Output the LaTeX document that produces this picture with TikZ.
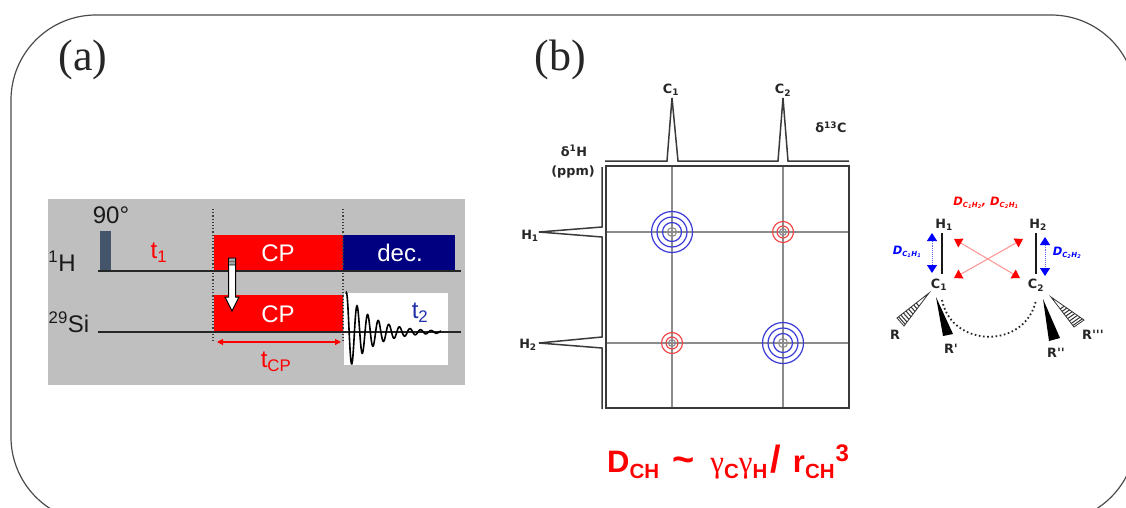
\documentclass[tikz,border=0pt]{standalone}
\usepackage{fontspec}
\setmainfont{Liberation Sans}
\newfontfamily\timesfam{Liberation Serif}
\newfontfamily\dvbold{DejaVu Sans Bold}
\newfontfamily\dvboldit{DejaVu Sans Bold Oblique}
\usetikzlibrary{arrows.meta,calc}
\definecolor{panelgray}{HTML}{BFBFBF}
\definecolor{pulseblue}{HTML}{44546A}
\definecolor{decnavy}{HTML}{000080}
\definecolor{sired}{HTML}{FF0000}
\definecolor{gridgray}{HTML}{8C8C8C}
\definecolor{specblack}{HTML}{3A3A3A}
\definecolor{tblue}{HTML}{1F2FA8}
\definecolor{ringblue}{HTML}{3A3AD8}
\definecolor{ringred}{HTML}{F04040}
\tikzset{
  x=1pt,y=-1pt,
  panel label/.style={font=\timesfam\fontsize{44}{44}\selectfont,inner sep=0pt,text=black!85},
  seq label/.style={font=\fontsize{24}{24}\selectfont,inner sep=0pt,text=black!90},
  block label/.style={font=\fontsize{24}{24}\selectfont,inner sep=0pt,text=white},
  spec label/.style={font=\dvbold\fontsize{12.8}{14}\selectfont,inner sep=0pt,text=black!85,align=center},
  dip label/.style={font=\dvboldit\fontsize{11.5}{11.5}\selectfont,inner sep=0pt},
  seq line/.style={draw=black!85,line width=1.5pt},
  spec line/.style={draw=specblack,line width=1.5pt,line join=miter},
  grid line/.style={draw=gridgray,line width=1.2pt},
  blue ring/.style={draw=ringblue,line width=1.2pt},
  red ring/.style={draw=ringred,line width=1.1pt},
  centre ring/.style={draw=gridgray,line width=1.1pt},
  time mark/.style={draw=black!75,line width=1.2pt,dotted},
  bond/.style={draw=black!90,line width=1.7pt},
  blue dipole/.style={draw=blue!60,line width=.9pt,densely dotted,{Triangle[fill=blue,color=blue,length=8pt,width=10pt]}-{Triangle[fill=blue,color=blue,length=8pt,width=10pt]}},
  red dipole/.style={draw=red!40,line width=1.1pt,{Triangle[fill=red,color=red,length=8pt,width=10pt]}-{Triangle[fill=red,color=red,length=8pt,width=10pt]}},
}
\newcommand{\hatchwedge}[3]{%
  \draw[draw=black!80,fill=white,line width=.8pt] (#1) -- (#2) -- (#3) -- cycle;
  \foreach \t in {.4,.48,.56,.64,.72,.8,.88,.95}{\draw[black!80,line width=1pt] ($(#1)!\t!(#2)$) -- ($(#1)!\t!(#3)$);}
}
\newcommand{\subs}[1]{\raisebox{-.35ex}{\fontsize{7}{7}\selectfont #1}}
\newcommand{\fsub}[1]{\raisebox{-6pt}{\fontsize{20.5}{20}\selectfont #1}}
\begin{document}
\begin{tikzpicture}
\useasboundingbox (0,0) rectangle (1126,508);
\clip (0,0) rectangle (1126,508);
\fill[white] (0,0) rectangle (1126,508);
% outer frame
\draw[draw=black!70,line width=1.2pt,rounded corners=85pt] (11,15) rectangle (1136,522);
\node[panel label] (la) at (83,60) {(a)};
\node[panel label] (lb) at (560,60) {(b)};

% ---------- panel (a)
\fill[panelgray] (48,199) rectangle (465,385);
\fill[white] (344,293) rectangle (448,365);
\fill[pulseblue] (100,231) rectangle (110.5,271);
\fill[sired] (214,235) rectangle (343,271);
\fill[decnavy] (343,235) rectangle (455,271);
\fill[sired] (214,295) rectangle (343,332);
\draw[time mark] (213,209) -- (213,341);
\draw[time mark] (343,209) -- (343,341);
\coordinate (h1s) at (98,271); \coordinate (h1e) at (461,271);
\coordinate (sis) at (98,332); \coordinate (sie) at (461,332);
\draw[seq line] (h1s) -- (h1e);
\draw[seq line] (sis) -- (sie);
\draw[black,line width=1.6pt,smooth,samples=260,domain=346:441,variable=\x]
  plot ({\x},{332-40*exp(-(\x-346)/26)*cos(34*(\x-346.5))});
% transfer arrow
\draw[black,line width=1pt,fill=white,line join=miter] (228.5,258) -- (235.5,258) -- (235.5,297) -- (239,297) -- (232,311) -- (225,297) -- (228.5,297) -- cycle;
\fill[gray!70] (229,259) rectangle (235,266);
\draw[black!60,line width=.5pt] (229,261) -- (235,261) (229,264) -- (235,264);
\draw[sired,line width=1.1pt,{Triangle[length=6pt,width=6pt]}-{Triangle[length=6pt,width=6pt]}] (217,342) -- (341,342);
\node[seq label] (n90) at (111,215) {90°};
\node[seq label] (nh) at (62,261) {\textsuperscript{1}H};
\node[seq label] (nsi) at (69,322) {\textsuperscript{29}Si};
\node[seq label,text=sired] (nt1) at (159,253) {t\textsubscript{1}};
\node[block label] (cp1) at (278,253) {CP};
\node[block label] (cp2) at (278,314) {CP};
\node[block label] (dec) at (400,253) {dec.};
\node[seq label,text=sired] (tcp) at (276,362) {t\textsubscript{CP}};
\node[seq label,text=tblue] (t2) at (420,313) {t\textsubscript{2}};

% ---------- panel (b)
\foreach \cx in {672,783} \draw[grid line] (\cx,166) -- (\cx,408);
\foreach \cy in {232,343} \draw[grid line] (606,\cy) -- (850,\cy);
\draw[spec line,line width=1.7pt] (606,166) rectangle (849,408);
\draw[spec line] (605,161) -- (667,161) -- (672,98) -- (678,161) -- (778,161) -- (783,98) -- (788,161) -- (849,161);
\draw[spec line] (602,167) -- (602,227) -- (539,232) -- (602,237) -- (602,337) -- (539,343) -- (602,348) -- (602,409);
\foreach \cx/\cy in {672/232,783/343}{
  \foreach \r in {20.5,15,9.5} \draw[blue ring] (\cx,\cy) circle (\r);
  \draw[centre ring] (\cx,\cy) circle (4.5);
}
\foreach \cx/\cy in {783/232,672/343}{
  \draw[red ring] (\cx,\cy) circle (10.5);
  \draw[red ring] (\cx,\cy) circle (6);
  \draw[centre ring] (\cx,\cy) circle (3.5);
}
\node[spec label] (pc1) at (671,90) {C\textsubscript{1}};
\node[spec label] (pc2) at (783,90) {C\textsubscript{2}};
\node[spec label] (d13) at (831,127) {δ\textsuperscript{13}C};
\node[spec label] (d1h) at (574,151) {δ\textsuperscript{1}H};
\node[spec label] (ppm) at (573,172) {(ppm)};
\node[spec label] (ph1) at (530,236) {H\textsubscript{1}};
\node[spec label] (ph2) at (528,345) {H\textsubscript{2}};

% formula
\node[inner sep=0pt,anchor=base west,text=sired,font=\bfseries\fontsize{31}{31}\selectfont] (dch) at (607,472)
  {D\fsub{CH}\kern13pt{\fontsize{38}{38}\selectfont\textasciitilde}\kern16pt{\timesfam\mdseries γ}\fsub{C}{\timesfam\mdseries γ}\fsub{H}\kern3pt{\fontsize{38}{38}\selectfont /}\kern12pt r\fsub{CH}\kern1pt\raisebox{11pt}{\fontsize{24}{24}\selectfont 3}};

% ---------- molecule
\node[spec label] (mh1) at (944,225) {H\textsubscript{1}};
\node[spec label] (mh2) at (1038,225) {H\textsubscript{2}};
\node[spec label] (mc1) at (939,285) {C\textsubscript{1}};
\node[spec label] (mc2) at (1036,285) {C\textsubscript{2}};
\coordinate (b1t) at (942,233); \coordinate (b1b) at (942,274);
\coordinate (b2t) at (1036,233); \coordinate (b2b) at (1036,274);
\draw[bond] (b1t) -- (b1b);
\draw[bond] (b2t) -- (b2b);
\coordinate (ba1) at (932,233); \coordinate (ba2) at (932,273);
\coordinate (bb1) at (1045,237); \coordinate (bb2) at (1045,276);
\draw[blue dipole] (ba1) -- (ba2);
\draw[blue dipole] (bb1) -- (bb2);
\coordinate (ra1) at (954,239); \coordinate (ra2) at (1020,278);
\coordinate (rb1) at (954,278); \coordinate (rb2) at (1023,239);
\draw[red dipole] (ra1) -- (ra2);
\draw[red dipole] (rb1) -- (rb2);
\node[dip label,text=red] (dr) at (986,203) {D\subs{C\textsubscript{1}H\textsubscript{2}}, D\subs{C\textsubscript{2}H\textsubscript{1}}};
\node[dip label,text=blue] (db1) at (907,252) {D\subs{C\textsubscript{1}H\textsubscript{1}}};
\node[dip label,text=blue] (db2) at (1067,253) {D\subs{C\textsubscript{2}H\textsubscript{2}}};
% wedges
\coordinate (w1t) at (929,293); \coordinate (w1a) at (897,318); \coordinate (w1b) at (904,326);
\hatchwedge{w1t}{w1a}{w1b}
\coordinate (w4t) at (1051,297); \coordinate (w4a) at (1074,327); \coordinate (w4b) at (1084,320);
\hatchwedge{w4t}{w4a}{w4b}
\coordinate (w2t) at (936,297); \coordinate (w2a) at (943,336); \coordinate (w2b) at (953,334);
\coordinate (w3t) at (1043,299); \coordinate (w3a) at (1049,341); \coordinate (w3b) at (1060,338);
\fill[black] (w2t) -- (w2a) -- (w2b) -- cycle;
\fill[black] (w3t) -- (w3a) -- (w3b) -- cycle;
\coordinate (arcs) at (942,300); \coordinate (arce) at (1036,300);
\draw[black!85,line width=1.8pt,dash pattern=on 1.6pt off 2.6pt] (arcs) .. controls (952,349) and (1026,349) .. (arce);
\node[spec label] (r1) at (895,335) {R};
\node[spec label] (r2) at (951,349) {R'};
\node[spec label] (r3) at (1056,353) {R''};
\node[spec label] (r4) at (1093,335) {R'''};
\end{tikzpicture}
\end{document}
